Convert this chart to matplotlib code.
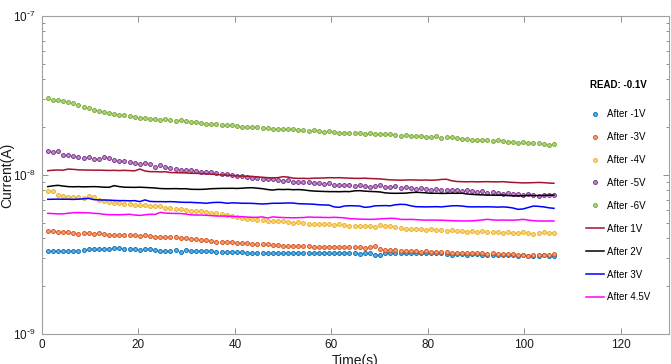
import numpy as np
import matplotlib
matplotlib.use("Agg")
import matplotlib.pyplot as plt
from matplotlib.ticker import LogLocator, NullFormatter, FixedLocator, FixedFormatter

plt.rcParams['font.family'] = ['Liberation Sans', 'DejaVu Sans']

# time axis (s)
time_s = np.round(np.arange(100) * 1.06 + 1.2, 2)

# y tick labels
y_ticks = [1e-9, 1e-8, 1e-7]
y_ticklabels = [r'$\mathdefault{10^{\text{-}9}}$', r'$\mathdefault{10^{\text{-}8}}$',
                r'$\mathdefault{10^{\text{-}7}}$']
x_ticks = [0, 20, 40, 60, 80, 100, 120]

# currents in nA
after_m1V = [3.33, 3.33, 3.32, 3.33, 3.34, 3.33, 3.35, 3.38, 3.42, 3.41,
             3.42, 3.43, 3.41, 3.45, 3.49, 3.42, 3.40, 3.41, 3.36, 3.40,
             3.41, 3.36, 3.34, 3.35, 3.33, 3.36, 3.26, 3.38, 3.34, 3.33,
             3.34, 3.33, 3.31, 3.30, 3.29, 3.29, 3.30, 3.28, 3.27, 3.25,
             3.24, 3.25, 3.24, 3.25, 3.23, 3.22, 3.22, 3.24, 3.22, 3.22,
             3.23, 3.22, 3.22, 3.21, 3.22, 3.22, 3.21, 3.24, 3.22, 3.21,
             3.22, 3.20, 3.21, 3.22, 3.14, 3.13, 3.22, 3.23, 3.25, 3.24,
             3.23, 3.24, 3.22, 3.23, 3.22, 3.23, 3.22, 3.21, 3.17, 3.16,
             3.17, 3.18, 3.16, 3.17, 3.17, 3.15, 3.16, 3.14, 3.15, 3.13,
             3.12, 3.12, 3.11, 3.12, 3.10, 3.11, 3.11, 3.12, 3.11, 3.11]
after_m3V = [4.47, 4.45, 4.38, 4.36, 4.35, 4.30, 4.26, 4.30, 4.30, 4.28,
             4.30, 4.25, 4.20, 4.20, 4.22, 4.18, 4.20, 4.20, 4.15, 4.18,
             4.15, 4.10, 4.10, 4.08, 4.10, 4.05, 4.00, 4.02, 3.98, 3.95,
             3.90, 3.88, 3.85, 3.80, 3.78, 3.77, 3.78, 3.75, 3.74, 3.72,
             3.70, 3.68, 3.67, 3.66, 3.64, 3.62, 3.60, 3.58, 3.58, 3.56,
             3.58, 3.56, 3.55, 3.54, 3.53, 3.55, 3.52, 3.50, 3.52, 3.50,
             3.52, 3.50, 3.48, 3.55, 3.60, 3.42, 3.38, 3.36, 3.38, 3.35,
             3.34, 3.35, 3.32, 3.30, 3.32, 3.30, 3.28, 3.27, 3.26, 3.25,
             3.25, 3.24, 3.25, 3.22, 3.23, 3.22, 3.20, 3.22, 3.20, 3.20,
             3.18, 3.20, 3.15, 3.12, 3.10, 3.14, 3.13, 3.16, 3.15, 3.17]
after_m4V = [7.90, 7.90, 7.50, 7.40, 7.30, 7.30, 7.30, 7.20, 7.40, 7.30,
             7.00, 6.90, 6.80, 6.70, 6.65, 6.60, 6.60, 6.50, 6.50, 6.45,
             6.40, 6.40, 6.35, 6.20, 6.20, 6.15, 6.10, 6.00, 5.95, 5.90,
             5.90, 5.85, 5.80, 5.75, 5.70, 5.60, 5.50, 5.45, 5.40, 5.30,
             5.25, 5.20, 5.20, 5.15, 5.10, 5.10, 5.15, 5.05, 5.00, 5.05,
             5.00, 4.95, 4.95, 4.90, 4.95, 4.90, 4.85, 4.90, 4.85, 4.80,
             4.80, 4.75, 4.80, 4.75, 4.70, 4.85, 4.80, 4.75, 4.70, 4.65,
             4.60, 4.60, 4.55, 4.60, 4.50, 4.55, 4.50, 4.50, 4.45, 4.50,
             4.45, 4.45, 4.40, 4.45, 4.40, 4.45, 4.35, 4.40, 4.35, 4.30,
             4.35, 4.30, 4.30, 4.35, 4.30, 4.25, 4.30, 4.35, 4.30, 4.30]
after_m5V = [14.2, 14.0, 14.2, 13.4, 13.3, 13.1, 12.9, 12.7, 12.9, 12.6,
             12.6, 12.9, 12.8, 12.4, 12.2, 12.3, 12.0, 11.9, 11.8, 11.9,
             11.7, 11.3, 11.6, 11.2, 11.1, 10.9, 10.8, 10.7, 10.8, 10.6,
             10.5, 10.4, 10.5, 10.3, 10.2, 10.1, 10.0, 9.9, 9.8, 9.7,
             9.6, 9.6, 9.5, 9.4, 9.4, 9.3, 9.2, 9.3, 9.1, 9.1,
             9.0, 9.0, 8.9, 8.9, 8.8, 8.9, 8.7, 8.7, 8.6, 8.6,
             8.5, 8.6, 8.5, 8.4, 8.5, 8.6, 8.4, 8.4, 8.5, 8.3,
             8.4, 8.3, 8.2, 8.3, 8.2, 8.1, 8.2, 8.0, 8.1, 8.1,
             8.0, 7.9, 8.0, 7.9, 7.8, 7.9, 7.7, 7.8, 7.7, 7.6,
             7.7, 7.6, 7.6, 7.5, 7.6, 7.5, 7.4, 7.5, 7.5, 7.5]
after_m6V = [30.3, 29.8, 29.5, 29.0, 28.6, 28.3, 27.4, 26.6, 26.2, 25.8,
             25.3, 24.8, 24.5, 24.1, 23.9, 23.7, 23.4, 23.1, 22.9, 22.7,
             22.6, 22.5, 22.3, 22.4, 22.1, 22.0, 22.2, 21.8, 21.6, 21.5,
             21.3, 21.0, 20.8, 20.9, 20.7, 20.5, 20.6, 20.3, 20.1, 20.0,
             20.1, 19.9, 19.7, 19.8, 19.6, 19.5, 19.5, 19.6, 19.4, 19.2,
             19.2, 19.0, 19.1, 18.8, 18.6, 18.9, 18.7, 18.5, 18.5, 18.4,
             18.5, 18.3, 18.2, 18.4, 18.1, 18.0, 18.0, 18.1, 17.8, 17.7,
             17.9, 17.6, 17.5, 17.6, 17.4, 17.3, 17.5, 17.2, 17.4, 17.3,
             17.0, 16.9, 16.8, 16.7, 16.6, 16.7, 16.5, 16.4, 16.5, 16.3,
             16.2, 16.2, 16.0, 16.1, 15.9, 15.8, 15.9, 15.7, 15.5, 15.6]
after_1V = [10.64, 10.72, 10.75, 10.72, 10.90, 10.85, 10.78, 10.75, 10.74, 10.72,
            10.73, 10.70, 10.68, 10.70, 10.66, 10.70, 10.65, 10.62, 10.90, 10.60,
            10.49, 10.50, 10.45, 10.48, 10.36, 10.34, 10.32, 10.30, 10.25, 10.24,
            10.22, 10.15, 10.12, 10.08, 10.00, 9.98, 9.92, 9.86, 9.85, 9.82,
            9.80, 9.72, 9.68, 9.62, 9.60, 9.62, 9.76, 9.70, 9.55, 9.52,
            9.53, 9.50, 9.55, 9.56, 9.58, 9.62, 9.60, 9.62, 9.58, 9.55,
            9.53, 9.52, 9.55, 9.50, 9.48, 9.45, 9.38, 9.32, 9.30, 9.28,
            9.30, 9.32, 9.30, 9.28, 9.30, 9.27, 9.30, 9.38, 9.40, 9.20,
            9.10, 9.08, 9.06, 9.08, 9.05, 9.07, 9.08, 9.06, 9.05, 9.08,
            9.02, 8.98, 8.95, 8.92, 8.93, 8.95, 8.98, 8.95, 8.90, 8.87]
after_2V = [8.45, 8.55, 8.61, 8.52, 8.45, 8.43, 8.45, 8.42, 8.44, 8.45,
            8.43, 8.38, 8.37, 8.57, 8.45, 8.38, 8.37, 8.36, 8.38, 8.35,
            8.32, 8.28, 8.22, 8.20, 8.20, 8.21, 8.19, 8.20, 8.13, 8.12,
            8.12, 8.15, 8.20, 8.22, 8.24, 8.24, 8.25, 8.23, 8.26, 8.30,
            8.32, 8.26, 8.20, 8.10, 8.04, 8.12, 8.10, 8.12, 8.08, 8.10,
            8.06, 7.98, 7.93, 7.90, 7.88, 7.86, 7.86, 7.85, 7.87, 7.86,
            7.95, 7.97, 7.92, 7.88, 7.86, 7.82, 7.72, 7.68, 7.67, 7.68,
            7.69, 7.75, 7.78, 7.76, 7.72, 7.67, 7.68, 7.66, 7.67, 7.68,
            7.67, 7.68, 7.60, 7.55, 7.52, 7.50, 7.48, 7.47, 7.46, 7.48,
            7.42, 7.40, 7.38, 7.40, 7.45, 7.42, 7.43, 7.44, 7.46, 7.48]
after_3V = [7.03, 7.04, 7.05, 7.04, 7.04, 7.02, 7.05, 7.08, 7.13, 7.00,
            6.97, 6.96, 6.95, 6.92, 6.90, 6.90, 6.88, 6.90, 6.80, 6.97,
            6.82, 6.80, 6.80, 6.79, 6.80, 6.78, 6.74, 6.73, 6.73, 6.70,
            6.68, 6.64, 6.70, 6.73, 6.72, 6.64, 6.68, 6.67, 6.64, 6.64,
            6.63, 6.60, 6.57, 6.60, 6.64, 6.64, 6.65, 6.67, 6.66, 6.60,
            6.58, 6.57, 6.55, 6.50, 6.48, 6.47, 6.30, 6.26, 6.38, 6.41,
            6.40, 6.38, 6.26, 6.30, 6.40, 6.41, 6.42, 6.40, 6.50, 6.54,
            6.52, 6.40, 6.32, 6.31, 6.30, 6.31, 6.32, 6.30, 6.35, 6.40,
            6.41, 6.38, 6.32, 6.30, 6.31, 6.30, 6.31, 6.30, 6.28, 6.30,
            6.27, 6.20, 6.08, 6.12, 6.25, 6.38, 6.35, 6.30, 6.22, 6.17]
after_4p5V = [5.74, 5.72, 5.69, 5.70, 5.75, 5.79, 5.80, 5.79, 5.78, 5.74,
              5.72, 5.66, 5.63, 5.63, 5.62, 5.64, 5.66, 5.60, 5.57, 5.62,
              5.66, 5.65, 5.82, 5.76, 5.74, 5.73, 5.72, 5.68, 5.62, 5.60,
              5.60, 5.58, 5.55, 5.52, 5.52, 5.51, 5.50, 5.47, 5.47, 5.44,
              5.42, 5.42, 5.45, 5.36, 5.45, 5.42, 5.40, 5.39, 5.38, 5.39,
              5.40, 5.44, 5.42, 5.42, 5.41, 5.40, 5.42, 5.40, 5.38, 5.32,
              5.30, 5.28, 5.27, 5.26, 5.27, 5.30, 5.32, 5.34, 5.33, 5.26,
              5.25, 5.26, 5.24, 5.22, 5.20, 5.21, 5.20, 5.20, 5.18, 5.16,
              5.15, 5.14, 5.14, 5.15, 5.18, 5.22, 5.26, 5.22, 5.20, 5.21,
              5.20, 5.20, 5.22, 5.26, 5.20, 5.16, 5.14, 5.13, 5.14, 5.14]

scatter_series = [
    ("After -1V", after_m1V, "#0072BD", "#6AAEDB"),
    ("After -3V", after_m3V, "#D95319", "#F0A27F"),
    ("After -4V", after_m4V, "#EDB120", "#F7D888"),
    ("After -5V", after_m5V, "#7E2F8E", "#BB93C4"),
    ("After -6V", after_m6V, "#77AC30", "#B3D38A"),
]
line_series = [
    ("After 1V", after_1V, "#A2142F"),
    ("After 2V", after_2V, "#000000"),
    ("After 3V", after_3V, "#0000FF"),
    ("After 4.5V", after_4p5V, "#FF00FF"),
]

fig = plt.figure(figsize=(6.71, 3.64), dpi=100)
ax = fig.add_axes([42/671, 1-334/364, 627/671, 318/364])

for lab, vals, ec, fc in scatter_series:
    ax.plot(time_s, np.array(vals) * 1e-9, linestyle='none', marker='o',
            markersize=2.8, markeredgewidth=0.7, markeredgecolor=ec,
            markerfacecolor=fc, label=lab)
for lab, vals, c in line_series:
    ax.plot(time_s, np.array(vals) * 1e-9, color=c, linewidth=1.1, label=lab)

ax.set_yscale('log')
ax.set_ylim(1e-9, 1e-7)
ax.set_xlim(0, 130)
ax.set_xticks(x_ticks)
ax.yaxis.set_major_locator(FixedLocator(y_ticks))
ax.yaxis.set_major_formatter(FixedFormatter(y_ticklabels))
ax.yaxis.set_minor_locator(LogLocator(base=10, subs=np.arange(2, 10), numticks=20))
ax.yaxis.set_minor_formatter(NullFormatter())

spine_c = '#A0A0A0'
for s in ax.spines.values():
    s.set_color(spine_c)
    s.set_linewidth(0.8)
ax.tick_params(which='both', direction='in', top=True, right=True,
               color='#808080', labelcolor='#1a1a1a', labelsize=8.5)
ax.tick_params(which='major', length=4, width=0.6)
ax.tick_params(which='minor', length=2.5, width=0.6)
ax.tick_params(axis='y', which='major', pad=4.5)

ax.set_ylabel('Current(A)', fontsize=10, color='#1a1a1a')
ax.yaxis.set_label_coords(-28/627, 0.5)
ax.set_xlabel('Time(s)', fontsize=10, color='#1a1a1a', labelpad=2)

leg = ax.legend(loc='upper left', bbox_to_anchor=(0.868, 0.80), frameon=False,
                fontsize=7, title='READ: -0.1V',
                title_fontproperties={'weight': 'bold', 'size': 7},
                handlelength=1.8, handletextpad=0.3, labelspacing=1.33,
                borderpad=0, borderaxespad=0, markerscale=1.0)
leg._legend_box.align = "center"
leg._legend_box.sep = 14

fig.savefig('out.png', dpi=100)
